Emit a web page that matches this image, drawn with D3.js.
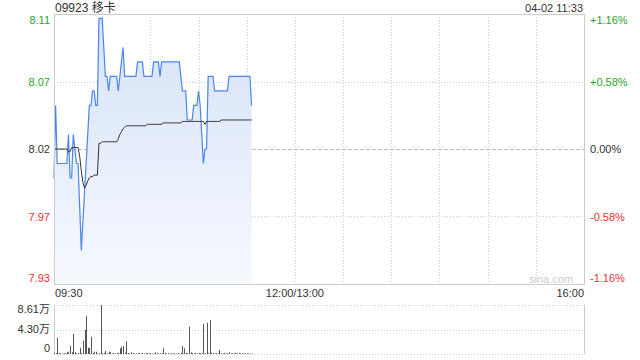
<!DOCTYPE html>
<html lang="zh">
<head>
    <meta charset="UTF-8">
    <title>09923 移卡 分时</title>
    <script src="https://d3js.org/d3.v7.min.js"></script>
    <style>
        body { margin: 0; background: #fff; font-family: Arial, "Liberation Sans", "Noto Sans CJK SC", sans-serif; }
        text { font-size: 11px; }
        .grid { stroke: #ccc; stroke-width: 1; stroke-dasharray: 1,2; shape-rendering: crispEdges; }
        .frame { stroke: #ccc; stroke-width: 1; fill: none; shape-rendering: crispEdges; }
    </style>
</head>
<body>
<svg width="640" height="360"></svg>
<script>
// ---- data (minute index from 09:30) ----
const prevClose = 8.02;
const pctRange = 0.0116;

const price = [
  8.00, 8.05, 8.01, 8.01, 8.01, 8.01, 8.01, 8.01, 8.01, 8.03,
  8.00, 8.00, 8.03, 8.02, 8.01, 8.01, 7.98, 7.95, 7.97, 7.99,
  8.01, 8.03, 8.05, 8.05, 8.06, 8.06, 8.05, 8.05, 8.11, 8.11,
  8.11, 8.09, 8.07, 8.07, 8.06, 8.07, 8.07, 8.07, 8.07, 8.07,
  8.06, 8.07, 8.08, 8.09, 8.07, 8.07, 8.07, 8.07, 8.07, 8.07,
  8.07, 8.07, 8.08, 8.08, 8.08, 8.08, 8.07, 8.07, 8.07, 8.07,
  8.07, 8.07, 8.08, 8.08, 8.08, 8.08, 8.07, 8.08, 8.08, 8.08,
  8.08, 8.08, 8.08, 8.08, 8.08, 8.08, 8.08, 8.08, 8.08, 8.07,
  8.06, 8.06, 8.06, 8.04, 8.04, 8.04, 8.04, 8.05, 8.05, 8.05,
  8.06, 8.05, 8.03, 8.01, 8.02, 8.02, 8.07, 8.07, 8.07, 8.07,
  8.06, 8.06, 8.06, 8.06, 8.06, 8.06, 8.06, 8.06, 8.06, 8.07,
  8.07, 8.07, 8.07, 8.07, 8.07, 8.07, 8.07, 8.07, 8.07, 8.07,
  8.07, 8.07, 8.07, 8.05
];

const avgPrice = [
  8.020, 8.020, 8.020, 8.020, 8.020, 8.020, 8.020, 8.020, 8.020, 8.018,
  8.018, 8.021, 8.021, 8.021, 8.021, 8.021, 8.015, 8.005, 7.997, 7.993,
  7.995, 7.998, 8.000, 8.001, 8.001, 8.002, 8.002, 8.002, 8.024, 8.024,
  8.025, 8.025, 8.025, 8.025, 8.025, 8.025, 8.025, 8.025, 8.025, 8.025,
  8.027, 8.030, 8.032, 8.034, 8.035, 8.036, 8.036, 8.036, 8.036, 8.036,
  8.036, 8.036, 8.036, 8.036, 8.036, 8.036, 8.036, 8.036, 8.037, 8.037,
  8.037, 8.037, 8.037, 8.037, 8.037, 8.037, 8.037, 8.037, 8.038, 8.038,
  8.038, 8.038, 8.038, 8.038, 8.038, 8.038, 8.038, 8.038, 8.038, 8.038,
  8.039, 8.039, 8.039, 8.039, 8.039, 8.039, 8.039, 8.039, 8.039, 8.039,
  8.039, 8.039, 8.039, 8.039, 8.037, 8.039, 8.039, 8.039, 8.039, 8.039,
  8.039, 8.039, 8.039, 8.039, 8.040, 8.040, 8.040, 8.040, 8.040, 8.040,
  8.040, 8.040, 8.040, 8.040, 8.040, 8.040, 8.040, 8.040, 8.040, 8.040,
  8.040, 8.040, 8.040, 8.040
];

const volume = [
  2000, 1500, 28600, 2000, 1000, 1000, 1500, 1000, 4000, 3000,
  14000, 3000, 35700, 3000, 1500, 2000, 11000, 1500, 23400, 42200,
  66800, 11000, 11000, 30500, 2000, 4000, 4000, 1000, 1500, 86100,
  1500, 2000, 5300, 1500, 4000, 3000, 1000, 1500, 1000, 1500,
  2000, 10000, 12800, 14000, 2000, 22800, 1500, 1000, 3000, 1500,
  1000, 1500, 1000, 2000, 1000, 1500, 1000, 2000, 1500, 1000,
  1500, 1000, 1000, 3000, 1500, 1000, 1500, 1000, 10000, 2000,
  1000, 1500, 1000, 1000, 1500, 1000, 1000, 1500, 1000, 2000,
  14000, 10000, 2000, 1500, 48000, 3000, 1500, 1000, 1500, 1000,
  2000, 1500, 1000, 52700, 1500, 55000, 1000, 59700, 2000, 1500,
  1000, 1500, 1000, 7000, 1500, 1000, 2000, 1000, 1500, 3000,
  1000, 1500, 1000, 2000, 1000, 1500, 1000, 1500, 1000, 1000,
  1500, 1000, 1000, 500
];

const priceLabels = ["8.11", "8.07", "8.02", "7.97", "7.93"];
const pctLabels = ["+1.16%", "+0.58%", "0.00%", "-0.58%", "-1.16%"];
const volLabels = ["8.61万", "4.30万", "0"];
const volMax = 86100;
const timeLabels = ["09:30", "12:00/13:00", "16:00"];
const totalMinutes = 330;

// ---- layout ----
const svg = d3.select("svg");
const L = 54, R = 584, T = 14, B = 284;
const VT = 305, VB = 354;

const x = d3.scaleLinear().domain([0, totalMinutes]).range([L, R]);
const y = d3.scaleLinear()
    .domain([prevClose * (1 - pctRange), prevClose * (1 + pctRange)])
    .range([B, T]);
const yv = d3.scaleLinear().domain([0, volMax]).range([VB, VT]);

const labelColor = i => i < 2 ? "#2aa52a" : (i === 2 ? "#333" : "#f03030");

// gradient for area
const defs = svg.append("defs");
const grad = defs.append("linearGradient").attr("id", "fillGrad")
    .attr("gradientUnits", "userSpaceOnUse")
    .attr("x1", 0).attr("y1", T).attr("x2", 0).attr("y2", B);
grad.append("stop").attr("offset", "0%").attr("stop-color", "#d6e2f8");
grad.append("stop").attr("offset", "100%").attr("stop-color", "#f6f9fe");

// vertical grid (every 30 min)
const vTicks = d3.range(30, totalMinutes, 30);
svg.append("g").selectAll("line").data(vTicks).enter().append("line")
    .attr("class", "grid")
    .attr("x1", d => Math.round(x(d)) + 0.5).attr("x2", d => Math.round(x(d)) + 0.5)
    .attr("y1", T).attr("y2", B);

// horizontal grid
const hVals = d3.range(5).map(i => y.domain()[1] - i * (y.domain()[1] - y.domain()[0]) / 4);
svg.append("g").selectAll("line").data([hVals[1], hVals[3]]).enter().append("line")
    .attr("class", "grid")
    .attr("x1", L).attr("x2", R)
    .attr("y1", d => Math.round(y(d)) + 0.5).attr("y2", d => Math.round(y(d)) + 0.5);
svg.append("line")
    .attr("x1", L).attr("x2", R)
    .attr("y1", Math.round(y(prevClose)) + 0.5).attr("y2", Math.round(y(prevClose)) + 0.5)
    .attr("stroke", "#bbb").attr("stroke-dasharray", "4,2");

// area + lines
const area = d3.area().x((d, i) => x(i)).y0(B).y1(d => y(d));
svg.append("path").datum(price).attr("d", area).attr("fill", "url(#fillGrad)");

const line = d3.line().x((d, i) => x(i)).y(d => y(d));
svg.append("path").datum(price).attr("d", line)
    .attr("fill", "none").attr("stroke", "#4a86e8").attr("stroke-width", 1.2);
svg.append("path").datum(avgPrice).attr("d", line)
    .attr("fill", "none").attr("stroke", "#333").attr("stroke-width", 1);

// frame
svg.append("rect").attr("class", "frame")
    .attr("x", L + 0.5).attr("y", T + 0.5).attr("width", R - L).attr("height", B - T);

// y labels
svg.append("g").selectAll("text").data(priceLabels).enter().append("text")
    .attr("x", 50).attr("text-anchor", "end")
    .attr("y", (d, i) => {
        let yy = y(hVals[i]);
        if (i === 0) yy += 6;
        if (i === 4) yy -= 6;
        return yy + 4;
    })
    .attr("fill", (d, i) => labelColor(i))
    .text(d => d);
svg.append("g").selectAll("text").data(pctLabels).enter().append("text")
    .attr("x", 590).attr("text-anchor", "start")
    .attr("y", (d, i) => {
        let yy = y(hVals[i]);
        if (i === 0) yy += 6;
        if (i === 4) yy -= 6;
        return yy + 4;
    })
    .attr("fill", (d, i) => labelColor(i))
    .text(d => d);

// titles
svg.append("text").attr("x", 55).attr("y", 12).attr("fill", "#333")
    .style("font-size", "12px").text("09923 移卡");
svg.append("text").attr("x", 583).attr("y", 12).attr("fill", "#333")
    .attr("text-anchor", "end").text("04-02 11:33");
svg.append("text").attr("x", 573).attr("y", 283).attr("fill", "#ccc")
    .attr("text-anchor", "end").text("sina.com");

// time labels
const tPos = [0, 150, 330];
const tAnchor = ["start", "middle", "end"];
svg.append("g").selectAll("text").data(timeLabels).enter().append("text")
    .attr("x", (d, i) => x(tPos[i]) + (i === 0 ? 1 : 0))
    .attr("y", 297)
    .attr("text-anchor", (d, i) => tAnchor[i])
    .attr("fill", "#333")
    .text(d => d);

// volume panel
svg.append("g").selectAll("line").data([volMax, volMax / 2, 0]).enter().append("line")
    .attr("class", "grid")
    .attr("x1", L).attr("x2", R)
    .attr("y1", d => Math.round(yv(d)) + 0.5).attr("y2", d => Math.round(yv(d)) + 0.5);
svg.append("line").attr("class", "frame")
    .attr("x1", R + 0.5).attr("x2", R + 0.5).attr("y1", VT).attr("y2", VB);
svg.append("line").attr("class", "frame")
    .attr("x1", L + 0.5).attr("x2", L + 0.5).attr("y1", VT).attr("y2", VB);

svg.append("g").selectAll("line").data(volume).enter().append("line")
    .attr("x1", (d, i) => Math.round(x(i)) + 0.5).attr("x2", (d, i) => Math.round(x(i)) + 0.5)
    .attr("y1", VB).attr("y2", d => yv(d))
    .attr("stroke", "#555").attr("stroke-width", 1);

const volLabelY = [313, 333, 352];
svg.append("g").selectAll("text").data(volLabels).enter().append("text")
    .attr("x", 50).attr("text-anchor", "end")
    .attr("y", (d, i) => volLabelY[i])
    .attr("fill", "#333")
    .text(d => d);
</script>
</body>
</html>
